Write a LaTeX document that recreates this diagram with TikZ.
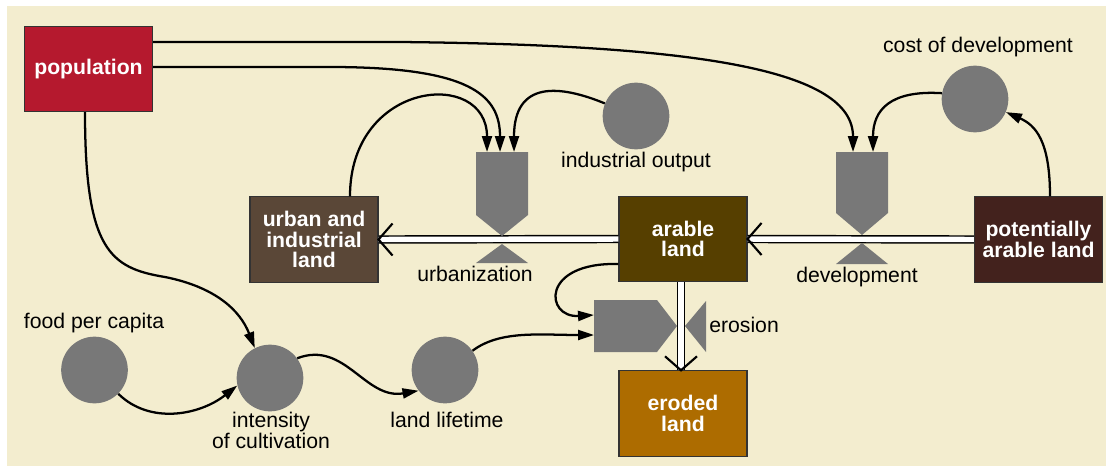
\documentclass[tikz,border=0pt]{standalone}
\usepackage{fontspec}
\setmainfont{Liberation Sans}
\usetikzlibrary{arrows.meta,calc}
\definecolor{panel}{HTML}{F3EDCF}
\definecolor{popcol}{HTML}{B5192E}
\definecolor{urbcol}{HTML}{5A4737}
\definecolor{arcol}{HTML}{563F00}
\definecolor{potcol}{HTML}{43221D}
\definecolor{erocol}{HTML}{AD6C00}
\definecolor{valvegray}{HTML}{787878}
\begin{document}
\begin{tikzpicture}[x=0.75pt,y=-0.75pt,
  stock/.style={draw=black!80,line width=0.8pt,minimum width=96pt,minimum height=64pt,inner sep=0pt,text=white,font=\fontsize{15.9}{15.4}\selectfont\bfseries,align=center},
  aux/.style={circle,fill=valvegray,minimum size=50pt,inner sep=0pt},
  lab/.style={font=\fontsize{15.9}{14.3}\selectfont,inner sep=0pt,align=center},
  conn/.style={line width=1.7pt,-{Triangle[length=12pt,width=7.5pt]}},
  pipe/.style={draw=black,double=white,double distance=4.1pt,line width=1.1pt},
  chev/.style={line width=1.6pt},
  valve/.style={fill=valvegray}]
\useasboundingbox (0,0) rectangle (1106,468);
\fill[white] (0,0) rectangle (1106,468);
\fill[panel] (7,6) rectangle (1106,466);

% stocks
\node[stock,fill=popcol] (population) at (88.5,69) {population};
\node[stock,fill=urbcol] (urban) at (314,239.5) {urban and\\industrial\\land};
\node[stock,fill=arcol] (arable) at (683,239) {arable\\land};
\node[stock,fill=potcol] (potential) at (1038.5,239.5) {potentially\\arable land};
\node[stock,fill=erocol] (eroded) at (683,413.5) {eroded\\land};

% auxiliaries
\node[aux] (industrial) at (636,116) {};
\node[aux] (cost) at (975,99) {};
\node[aux] (food) at (94.5,370) {};
\node[aux] (intensity) at (270,378) {};
\node[aux] (lifetime) at (445,370) {};

% pipes
\draw[pipe] (arable.west) -- (urban.east);
\draw[pipe] (potential.west) -- (arable.east);
\coordinate (pipetop) at ($(arable.south)+(-2,0)$);
\coordinate (pipebot) at ($(eroded.north)+(-2,0)$);
\draw[pipe] (pipetop) -- (pipebot);
% chevrons
\draw[chev] ($(urban.east)+(14,-16)$) -- (urban.east) -- ($(urban.east)+(14,16)$);
\draw[chev] ($(arable.east)+(14,-16)$) -- (arable.east) -- ($(arable.east)+(14,16)$);
\draw[chev] ($(pipebot)+(-16,-14)$) -- (pipebot) -- ($(pipebot)+(16,-14)$);

% valves
\fill[valve] (476,152) -- (528,152) -- (528,215) -- (502,236) -- (476,215) -- cycle;
\fill[valve] (502,244) -- (528,263) -- (476,263) -- cycle;
\fill[valve] (836,152) -- (888,152) -- (888,213) -- (862,235) -- (836,213) -- cycle;
\fill[valve] (862,243) -- (888,264) -- (836,264) -- cycle;
\fill[valve] (594,300) -- (657,300) -- (677,326) -- (657,352) -- (594,352) -- cycle;
\fill[valve] (685,326) -- (706,301) -- (706,352) -- cycle;

% arrow targets
\coordinate (u1) at (487,152);
\coordinate (u2) at (500,152);
\coordinate (u3) at (514,152);
\coordinate (d1) at (853,152);
\coordinate (d2) at (873,152);
\coordinate (e1) at (594,315);
\coordinate (e2) at (594,335);

% connector start points
\coordinate (poptop) at ($(population.east)+(0,-27)$);
\coordinate (poplow) at ($(population.east)+(0,-2)$);
\coordinate (popbot) at ($(population.south)+(-3.5,0)$);
\coordinate (urbtop) at ($(urban.north)+(36,0)$);
\coordinate (pottop) at ($(potential.north)+(11.5,0)$);
\coordinate (arleft) at ($(arable.west)+(0,25)$);

% connectors
\draw[conn] (poptop) -- (400,42) .. controls (700,45) and (853,70) .. (d1);
\draw[conn] (poplow) -- (330,67) .. controls (470,67) and (500,95) .. (u2);
\draw[conn] (urbtop) .. controls (350,80) and (487,68) .. (u1);
\draw[conn] (industrial.158) .. controls (560,85) and (514,80) .. (u3);
\draw[conn] (cost.170) .. controls (890,90) and (873,110) .. (d2);
\draw[conn] (pottop) .. controls (1050,140) and (1035,125) .. (cost.-23);
\draw[conn] (popbot) .. controls (85,250) and (110,268) .. (165,277) .. controls (215,287) and (240,310) .. (intensity.117);
\draw[conn] (food.-45) .. controls (150,425) and (200,415) .. (intensity.193);
\draw[conn] (intensity.36) .. controls (345,340) and (365,400) .. (lifetime.218);
\draw[conn] (lifetime.35) .. controls (500,330) and (540,335) .. (e2);
\draw[conn] (arleft) .. controls (540,262) and (545,318) .. (e1);

% labels
\node[lab,anchor=base] (lfood) at (94,328) {food per capita};
\node[lab,anchor=north] (lint) at (271,411.8) {intensity\\of cultivation};
\node[lab,anchor=base] (llife) at (447,427) {land lifetime};
\node[lab,anchor=base] (lind) at (636,167) {industrial output};
\node[lab,anchor=base] (lcost) at (978,52) {cost of development};
\node[lab,anchor=base] (lurb) at (475,281) {urbanization};
\node[lab,anchor=base] (ldev) at (857,282) {development};
\node[lab,anchor=base west] (lero) at (709,332) {erosion};
\end{tikzpicture}
\end{document}
